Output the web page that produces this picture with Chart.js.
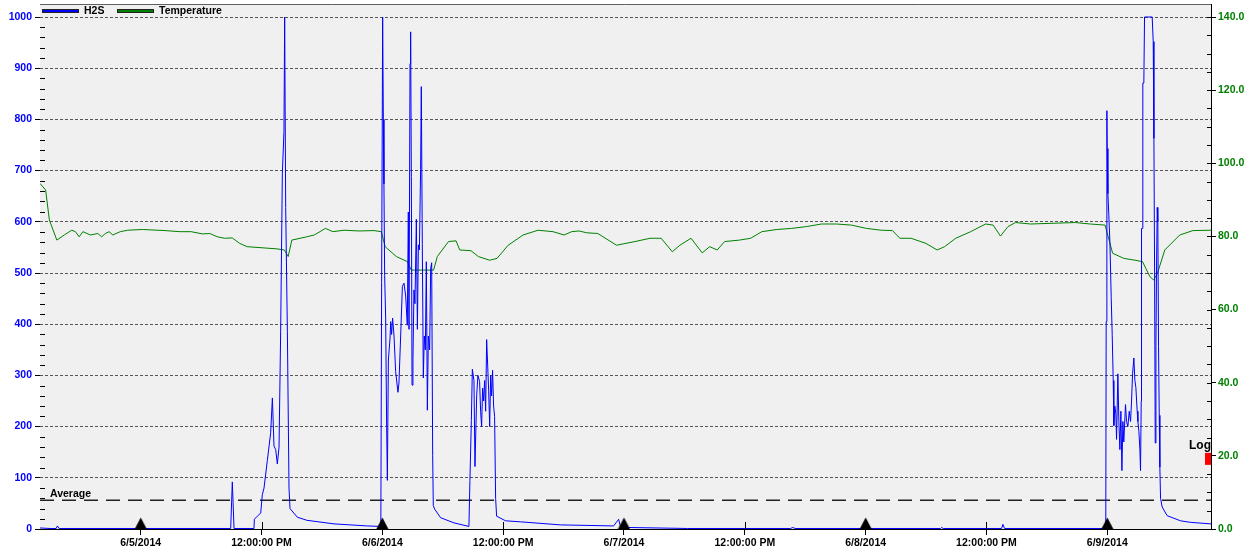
<!DOCTYPE html>
<html lang="en">
<head>
  <meta charset="UTF-8" />
  <title>H2S and Temperature</title>
  <script src="https://cdn.jsdelivr.net/npm/chart.js@4.4.1/dist/chart.umd.min.js"></script>
  <style>
    html, body { margin: 0; padding: 0; background: #fff; }
    canvas { display: block; }
  </style>
</head>
<body>
  <canvas id="chart" width="1254" height="552"></canvas>

  <script>
    // time axis is in hours, counted from 6/5/2014 00:00
    const hourStart = -10;
    const hourEnd = 106.3;
    const tickHours = [0, 12, 24, 36, 48, 60, 72, 84, 96];
    const dayLabels = ["6/5/2014", "6/6/2014", "6/7/2014", "6/8/2014", "6/9/2014"];
    const noonLabel = "12:00:00 PM";
    const midnightHours = [0, 24, 48, 72, 96];

    const leftTicks = [0, 100, 200, 300, 400, 500, 600, 700, 800, 900, 1000];
    const rightTicks = [0, 20, 40, 60, 80, 100, 120, 140];
    const averageH2S = 56;

    // [hour, ppm]
    const h2sPoints = [
      [-10, 2], [-9, 1], [-8.4, 1], [-8.27, 6], [-8.1, 1], [0, 1], [8.94, 1], [9.10, 92], [9.27, 1],
      [11.25, 1], [11.29, 19], [11.58, 25], [11.92, 31], [12.08, 67], [12.25, 80], [12.58, 134],
      [12.91, 188], [13.08, 256], [13.24, 162], [13.41, 155], [13.57, 127], [13.74, 160], [13.90, 385],
      [14.07, 695], [14.23, 776], [14.30, 1000], [14.40, 628], [14.57, 385], [14.73, 80], [14.83, 40],
      [15.56, 23], [16.5, 17], [19.2, 10], [22.5, 6], [23.85, 5],
      [23.93, 481], [24.03, 1000], [24.10, 800], [24.16, 674], [24.23, 495], [24.33, 412], [24.43, 198],
      [24.50, 95], [24.60, 330], [24.76, 371], [24.83, 405], [24.92, 380], [25.02, 412], [25.16, 377],
      [25.32, 308], [25.55, 267], [25.65, 285], [25.82, 377], [25.99, 474], [26.15, 480], [26.32, 455],
      [26.48, 398], [26.58, 619], [26.65, 390], [26.75, 909], [26.81, 971], [26.88, 688], [26.95, 281],
      [27.04, 330], [27.14, 467], [27.24, 440], [27.38, 605], [27.48, 390], [27.58, 555], [27.68, 545],
      [27.80, 702], [27.87, 864], [27.97, 555], [28.07, 295], [28.17, 377], [28.27, 350], [28.37, 522],
      [28.47, 232], [28.57, 377], [28.70, 350], [28.80, 509], [28.90, 520], [29.00, 143], [29.06, 46],
      [29.19, 39], [29.79, 22], [31.11, 12], [32.60, 5],
      [32.70, 95], [32.84, 212], [32.94, 312], [33.10, 290], [33.20, 122], [33.37, 260], [33.49, 300],
      [33.66, 288], [33.76, 230], [33.86, 200], [33.96, 275], [34.06, 250], [34.16, 290], [34.26, 230],
      [34.36, 370], [34.46, 320], [34.56, 270], [34.66, 200], [34.76, 300], [34.85, 260], [34.95, 310],
      [35.05, 240], [35.15, 220], [35.25, 60], [35.35, 25], [36.24, 16], [37.73, 14], [41.71, 8],
      [46.97, 6], [47.47, 19], [47.66, 4], [48.36, 3], [54.32, 1], [64.55, 1], [64.75, 3], [65.0, 1],
      [79.44, 1], [79.54, 3], [79.7, 1], [85.5, 1], [85.63, 9], [85.8, 1], [95.85, 1],
      [95.89, 405], [95.96, 817], [95.99, 743], [96.06, 655], [96.15, 614], [96.26, 560], [96.39, 452],
      [96.49, 378], [96.59, 290], [96.65, 202], [96.75, 240], [96.85, 225], [96.92, 175], [97.05, 303],
      [97.15, 210], [97.25, 155], [97.35, 230], [97.45, 114], [97.55, 210], [97.64, 170], [97.81, 243],
      [97.91, 210], [98.04, 200], [98.18, 230], [98.31, 210], [98.41, 250], [98.51, 303], [98.64, 334],
      [98.74, 290], [98.84, 276], [98.97, 230], [99.04, 210], [99.14, 190], [99.24, 155], [99.30, 114],
      [99.37, 250], [99.40, 587], [99.47, 587], [99.53, 871], [99.63, 871], [99.70, 1000], [100.46, 1000],
      [100.56, 952], [100.63, 763], [100.70, 492], [100.76, 168], [100.83, 357], [100.89, 506],
      [100.96, 628], [101.02, 600], [101.09, 357], [101.16, 222], [101.22, 121], [101.29, 60],
      [101.45, 43], [101.95, 26], [103.27, 16], [104.26, 13], [106.3, 10]
    ];

    // [hour, degrees]
    const tempPoints = [
      [-10, 94.5], [-9.44, 92.7], [-9.07, 84.5], [-8.33, 79.0], [-7.59, 80.4], [-6.85, 81.7], [-6.48, 81.3],
      [-6.11, 79.9], [-5.74, 81.3], [-4.99, 80.4], [-4.25, 80.8], [-3.88, 79.9], [-3.51, 80.8], [-3.14, 81.3],
      [-2.77, 80.4], [-2.03, 81.3], [-1.29, 81.7], [0.19, 81.9], [2.41, 81.6], [3.90, 81.3], [5.01, 81.3],
      [6.12, 80.7], [6.86, 80.8], [7.61, 79.9], [8.34, 79.5], [9.09, 79.6], [9.83, 78.1], [10.57, 77.2],
      [12.05, 76.9], [13.53, 76.6], [14.27, 76.3], [14.65, 74.5], [15.01, 79.0], [16.49, 79.9], [17.24, 80.4],
      [18.35, 82.2], [19.09, 81.3], [20.20, 81.7], [21.69, 81.5], [23.17, 81.6], [23.90, 81.3], [24.28, 77.2],
      [25.39, 74.5], [26.50, 73.1], [26.87, 70.8], [29.09, 70.8], [29.46, 74.5], [30.57, 78.6], [31.32, 78.8],
      [31.69, 76.3], [32.80, 76.1], [33.54, 74.5], [34.66, 73.5], [35.39, 74.0], [36.50, 77.6], [37.98, 80.4],
      [39.47, 81.7], [40.95, 81.3], [42.06, 80.4], [42.80, 81.3], [43.54, 81.5], [44.29, 81.0], [45.40, 80.8],
      [47.25, 77.6], [49.10, 78.6], [50.58, 79.5], [51.69, 79.5], [52.80, 75.8], [53.55, 77.6], [54.66, 79.5],
      [55.77, 75.5], [56.51, 77.2], [57.26, 76.3], [57.99, 78.6], [59.47, 79.0], [60.58, 79.5], [61.69, 81.3],
      [63.18, 81.9], [64.66, 82.2], [66.14, 82.7], [67.62, 83.4], [69.11, 83.4], [70.59, 83.1], [72.07, 82.2],
      [73.55, 81.7], [74.66, 81.6], [75.40, 79.5], [76.51, 79.5], [77.99, 78.1], [79.10, 76.3], [79.84, 77.2],
      [80.95, 79.5], [82.43, 81.3], [83.91, 83.4], [84.66, 83.1], [85.39, 80.1], [86.14, 82.7], [86.89, 83.8],
      [88.37, 83.4], [92.82, 83.8], [94.30, 83.4], [95.78, 83.1], [96.53, 75.4], [97.64, 74.0], [98.76, 73.5],
      [99.50, 73.1], [100.23, 69.0], [100.60, 68.1], [100.98, 69.9], [101.71, 76.3], [103.20, 80.4],
      [104.5, 81.6], [106.3, 81.7]
    ];

    const blue = '#0000ff';
    const green = '#008000';
    const fontFamily = '"Liberation Sans", Arial, sans-serif';
    const boldFont = { family: fontFamily, size: 10.5, weight: 'bold' };

    // day marker: black triangle sitting on the axis
    const dayMark = document.createElement('canvas');
    dayMark.width = 13;
    dayMark.height = 24;
    (function () {
      const c = dayMark.getContext('2d');
      c.fillStyle = '#000';
      c.beginPath();
      c.moveTo(6.5, 0.5);
      c.lineTo(12.5, 12);
      c.lineTo(0.5, 12);
      c.closePath();
      c.fill();
    })();

    const toXY = pts => pts.map(p => ({ x: p[0], y: p[1] }));

    // keep the plot box fixed: no extra room for half tick labels
    const noLabelPadding = s => { s.paddingTop = 0; s.paddingBottom = 0; };

    const plotBackground = {
      id: 'plotBackground',
      beforeDraw(chart) {
        const { ctx, chartArea: a } = chart;
        ctx.save();
        ctx.fillStyle = '#fff';
        ctx.fillRect(0, 0, chart.width, chart.height);
        ctx.fillStyle = '#f0f0f0';
        ctx.fillRect(a.left, a.top, a.right - a.left, a.bottom - a.top);
        ctx.restore();
      }
    };

    const decorations = {
      id: 'decorations',
      afterDraw(chart) {
        const { ctx, chartArea: a, scales } = chart;
        ctx.save();

        // top frame line
        ctx.strokeStyle = '#606060';
        ctx.lineWidth = 1;
        ctx.beginPath();
        ctx.moveTo(a.left, a.top + 0.5);
        ctx.lineTo(a.right, a.top + 0.5);
        ctx.stroke();

        // minor ticks, pointing inwards
        ctx.strokeStyle = '#000';
        ctx.beginPath();
        for (let v = 20; v < 1000; v += 20) {
          if (v % 100 === 0) continue;
          const y = Math.round(scales.y.getPixelForValue(v)) + 0.5;
          ctx.moveTo(a.left, y);
          ctx.lineTo(a.left + 5, y);
        }
        for (let v = 5; v <= 140; v += 5) {
          const y = Math.round(scales.y1.getPixelForValue(v)) + 0.5;
          ctx.moveTo(a.right, y);
          ctx.lineTo(a.right - 4, y);
        }
        tickHours.forEach(h => {
          if (h % 24 === 0) return;
          const x = Math.round(scales.x.getPixelForValue(h)) + 0.5;
          ctx.moveTo(x, a.bottom);
          ctx.lineTo(x, a.bottom - 7);
        });
        ctx.stroke();

        // legend
        ctx.font = 'bold 10.5px ' + fontFamily;
        ctx.textBaseline = 'middle';
        ctx.textAlign = 'left';
        const legendY = a.top + 7;
        [['H2S', blue, a.left + 2], ['Temperature', green, a.left + 77]].forEach(([text, color, x]) => {
          ctx.fillStyle = '#222';
          ctx.fillRect(x, legendY - 2, 37, 4);
          ctx.fillStyle = color;
          ctx.fillRect(x + 1, legendY - 1, 35, 2);
          ctx.fillStyle = '#000';
          ctx.fillText(text, x + 42, legendY);
        });

        // average label
        ctx.textBaseline = 'alphabetic';
        ctx.fillText('Average', a.left + 10, scales.y.getPixelForValue(averageH2S) - 3);

        // log marker on the right axis
        ctx.font = 'bold 12px ' + fontFamily;
        ctx.textAlign = 'right';
        ctx.fillText('Log', a.right, scales.y1.getPixelForValue(20) - 7);
        ctx.fillStyle = '#ff0000';
        ctx.fillRect(a.right - 6, scales.y1.getPixelForValue(20) - 3, 6, 12);

        ctx.restore();
      }
    };

    new Chart(document.getElementById('chart'), {
      type: 'line',
      data: {
        datasets: [
          {
            label: 'Days',
            data: midnightHours.map(h => ({ x: h, y: 0 })),
            yAxisID: 'y',
            showLine: false,
            pointStyle: dayMark,
            pointRadius: 7,
            clip: false,
            order: 0
          },
          {
            label: 'H2S',
            data: toXY(h2sPoints),
            yAxisID: 'y',
            borderColor: blue,
            borderWidth: 1,
            pointRadius: 0,
            tension: 0,
            order: 1
          },
          {
            label: 'Temperature',
            data: toXY(tempPoints),
            yAxisID: 'y1',
            borderColor: green,
            borderWidth: 1,
            pointRadius: 0,
            tension: 0,
            order: 2
          },
          {
            label: 'Average',
            data: [{ x: hourStart, y: averageH2S }, { x: hourEnd, y: averageH2S }],
            yAxisID: 'y',
            borderColor: '#222',
            borderWidth: 1.5,
            borderDash: [14, 8],
            pointRadius: 0,
            order: 3
          }
        ]
      },
      options: {
        responsive: false,
        animation: false,
        events: [],
        layout: { autoPadding: false, padding: { top: 4, left: 0, right: 0, bottom: 0 } },
        plugins: {
          legend: { display: false },
          tooltip: { enabled: false },
          title: { display: false }
        },
        scales: {
          x: {
            type: 'linear',
            min: hourStart,
            max: hourEnd,
            afterBuildTicks: s => { s.ticks = tickHours.map(v => ({ value: v })); },
            afterFit: s => { s.height = 23; s.paddingLeft = 0; s.paddingRight = 0; },
            ticks: {
              autoSkip: false,
              maxRotation: 0,
              padding: 2,
              color: '#000',
              font: boldFont,
              callback: v => (v % 24 === 0 ? dayLabels[v / 24] : noonLabel)
            },
            grid: { drawOnChartArea: false, tickLength: 6, color: '#000' },
            border: { color: '#000', width: 1 }
          },
          y: {
            position: 'left',
            min: 0,
            max: 1025.4,
            afterBuildTicks: s => { s.ticks = leftTicks.map(v => ({ value: v })); },
            afterFit: s => { s.width = 40; noLabelPadding(s); },
            ticks: { color: blue, font: boldFont, padding: 3, callback: v => String(v) },
            grid: { color: '#555', tickColor: '#000', tickLength: 5 },
            border: { display: false, dash: [3, 2] }
          },
          y1: {
            position: 'right',
            min: 0,
            max: 143.56,
            afterBuildTicks: s => { s.ticks = rightTicks.map(v => ({ value: v })); },
            afterFit: s => { s.width = 43; noLabelPadding(s); },
            ticks: { color: green, font: boldFont, padding: 2, callback: v => v.toFixed(1) },
            grid: { drawOnChartArea: false, tickColor: '#000', tickLength: 5 },
            border: { color: '#000', width: 1 }
          }
        }
      },
      plugins: [plotBackground, decorations]
    });
  </script>
</body>
</html>
